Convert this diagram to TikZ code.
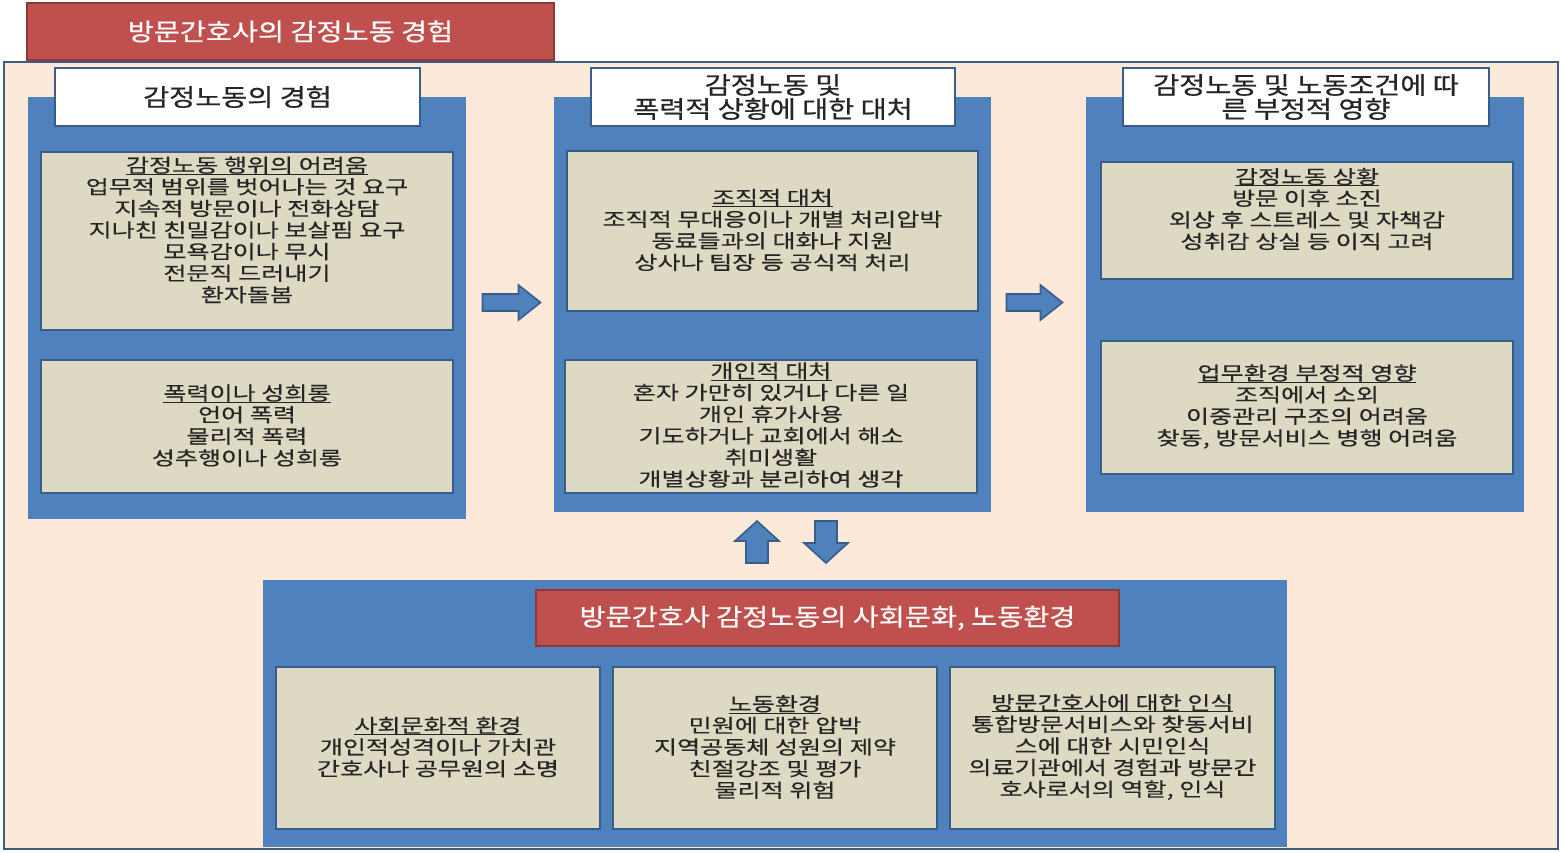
\documentclass[tikz,border=0pt]{standalone}
\usepackage{fontspec}
\newfontfamily\krhead{Noto Sans CJK KR}[FakeStretch=1.18, FakeBold=0.6]
\newfontfamily\krbody{Noto Sans CJK KR}[FakeStretch=1.32, FakeBold=0.4]
\newcommand\hdrline[1]{\setbox0\hbox{#1}\leavevmode\rlap{\rule[-2.5pt]{\wd0}{0.9pt}}\box0}
\definecolor{peach}{HTML}{FDE9D9}
\definecolor{cblue}{HTML}{4F81BD}
\definecolor{dblue}{HTML}{385D8A}
\definecolor{frameblue}{HTML}{3E5C7E}
\definecolor{beige}{HTML}{DDD9C3}
\definecolor{cred}{HTML}{C0504D}
\definecolor{dred}{HTML}{8C3836}
\definecolor{txt}{HTML}{262626}
\tikzset{
  colbox/.style={rectangle, fill=cblue, draw=none, inner sep=0},
  headbox/.style={rectangle, fill=white, draw=dblue, line width=1.2pt, inner sep=0, align=center,
    font=\krhead\fontsize{24}{24}\selectfont, text=txt},
  itembox/.style={rectangle, fill=beige, draw=dblue, line width=1.6pt, inner sep=0},
  itemtext/.style={align=center, inner sep=0, font=\krbody\fontsize{19}{21.6}\selectfont, text=txt},
  redbox/.style={rectangle, fill=cred, draw=dred, line width=1.2pt, inner sep=0, align=center,
    font=\krhead\fontsize{24}{24}\selectfont, text=white},
  bigarrow/.style={fill=cblue, draw=dblue, line width=1.6pt, line join=miter},
}
\begin{document}
\begin{tikzpicture}[x=1pt,y=-1pt]
\useasboundingbox (0,0) rectangle (1561,852);
\fill[white] (0,0) rectangle (1561,852);
% outer frame
\node[rectangle, fill=peach, draw=frameblue, line width=2pt, minimum width=1554pt, minimum height=787pt, inner sep=0] (frame) at (781,455.5) {};
% title
\node[redbox, minimum width=527pt, minimum height=57pt] (title) at (290.5,31.5) {방문간호사의 감정노동 경험};

% column 1
\node[colbox, minimum width=438pt, minimum height=422pt] (c1) at (247,308) {};
\node[headbox, minimum width=365pt, minimum height=58pt] (h1) at (237.5,97) {감정노동의 경험};
\node[itembox, minimum width=412pt, minimum height=178pt] (b11) at (247,241) {};
\node[itemtext] (t11) at (247,230) {\hdrline{감정노동 행위의 어려움}\\업무적 범위를 벗어나는 것 요구\\지속적 방문이나 전화상담\\지나친 친밀감이나 보살핌 요구\\모욕감이나 무시\\전문직 드러내기\\환자돌봄};
\node[itembox, minimum width=412pt, minimum height=133pt] (b12) at (247,426.5) {};
\node[itemtext] (t12) at (247,425.5) {\hdrline{폭력이나 성희롱}\\언어 폭력\\물리적 폭력\\성추행이나 성희롱};

% column 2
\node[colbox, minimum width=437pt, minimum height=415pt] (c2) at (772.5,304.5) {};
\node[headbox, minimum width=364pt, minimum height=58pt] (h2) at (773,97) {감정노동 및\\폭력적 상황에 대한 대처};
\node[itembox, minimum width=411pt, minimum height=160pt] (b21) at (772.5,231) {};
\node[itemtext] (t21) at (772.5,230) {\hdrline{조직적 대처}\\조직적 무대응이나 개별 처리압박\\동료들과의 대화나 지원\\상사나 팀장 등 공식적 처리};
\node[itembox, minimum width=412pt, minimum height=133pt] (b22) at (771,426.5) {};
\node[itemtext] (t22) at (771,425) {\hdrline{개인적 대처}\\혼자 가만히 있거나 다른 일\\개인 휴가사용\\기도하거나 교회에서 해소\\취미생활\\개별상황과 분리하여 생각};

% column 3
\node[colbox, minimum width=438pt, minimum height=415pt] (c3) at (1305,304.5) {};
\node[headbox, minimum width=366pt, minimum height=58pt] (h3) at (1306,97) {감정노동 및 노동조건에 따\\른 부정적 영향};
\node[itembox, minimum width=412pt, minimum height=117pt] (b31) at (1307,220.5) {};
\node[itemtext] (t31) at (1307,209) {\hdrline{감정노동 상황}\\방문 이후 소진\\외상 후 스트레스 및 자책감\\성취감 상실 등 이직 고려};
\node[itembox, minimum width=412pt, minimum height=133pt] (b32) at (1307,407.5) {};
\node[itemtext] (t32) at (1307,406.5) {\hdrline{업무환경 부정적 영향}\\조직에서 소외\\이중관리 구조의 어려움\\찾동, 방문서비스 병행 어려움};

% bottom
\node[colbox, minimum width=1024pt, minimum height=267pt] (c4) at (775,713.5) {};
\node[redbox, minimum width=583pt, minimum height=56pt] (h4) at (827.5,618) {방문간호사 감정노동의 사회문화, 노동환경};
\node[itembox, minimum width=324pt, minimum height=162pt] (b41) at (438,748) {};
\node[itemtext] (t41) at (438,747) {\hdrline{사회문화적 환경}\\개인적성격이나 가치관\\간호사나 공무원의 소명};
\node[itembox, minimum width=324pt, minimum height=162pt] (b42) at (775,748) {};
\node[itemtext] (t42) at (775,747) {\hdrline{노동환경}\\민원에 대한 압박\\지역공동체 성원의 제약\\친절강조 및 평가\\물리적 위험};
\node[itembox, minimum width=325pt, minimum height=162pt] (b43) at (1112.5,748) {};
\node[itemtext] (t43) at (1112.5,747) {\hdrline{방문간호사에 대한 인식}\\통합방문서비스와 찾동서비\\스에 대한 시민인식\\의료기관에서 경험과 방문간\\호사로서의 역할, 인식};

% block arrows
\draw[bigarrow, shift={(511.5,302.5)}] (-29,-8.5) -- (7,-8.5) -- (7,-17.5) -- (29,0) -- (7,17.5) -- (7,8.5) -- (-29,8.5) -- cycle;
\draw[bigarrow, shift={(1034.5,302.5)}] (-28,-8.5) -- (6,-8.5) -- (6,-17.5) -- (28,0) -- (6,17.5) -- (6,8.5) -- (-28,8.5) -- cycle;
\draw[bigarrow, shift={(757,542)}] (-11,21) -- (-11,-1) -- (-22,-1) -- (0,-21) -- (22,-1) -- (11,-1) -- (11,21) -- cycle;
\draw[bigarrow, shift={(826,542)}] (-11,-21) -- (-11,1) -- (-22,1) -- (0,21) -- (22,1) -- (11,1) -- (11,-21) -- cycle;
\end{tikzpicture}
\end{document}
